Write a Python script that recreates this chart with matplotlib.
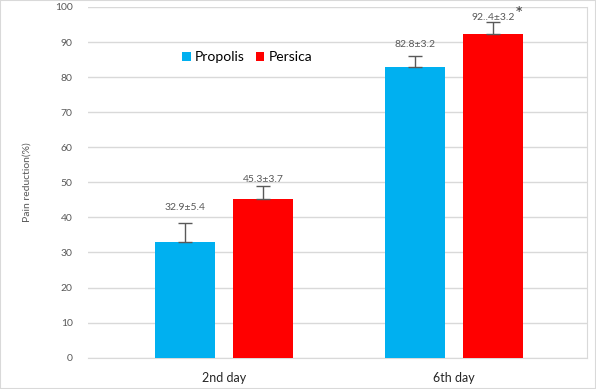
import matplotlib
matplotlib.use('Agg')
import matplotlib.pyplot as plt
import numpy as np
from matplotlib.patches import Rectangle

plt.rcParams['font.family'] = ['Lato', 'DejaVu Sans']

days = ['2nd day', '6th day']
propolis = [32.9, 82.8]
propolis_sd = [5.4, 3.2]
persica = [45.3, 92.4]
persica_sd = [3.7, 3.2]
propolis_labels = ['32.9±5.4', '82.8±3.2']
persica_labels = ['45.3±3.7', '92..4±3.2']
yticks = list(range(0, 101, 10))

BLUE = '#00B0F0'
RED = '#FF0000'
GRID = '#D9D9D9'
TXT = '#595959'

fig = plt.figure(figsize=(5.96, 3.89), dpi=100)
ax = fig.add_axes([88 / 596, 1 - 357.7 / 389, 499 / 596, 350.7 / 389])

x = np.arange(len(days))
w = 0.26
off = 0.17

ax.bar(x - off, propolis, w, color=BLUE, label='Propolis', zorder=3)
ax.bar(x + off, persica, w, color=RED, label='Persica', zorder=3)

err_kw = dict(fmt='none', ecolor=TXT, elinewidth=1, capsize=5, capthick=1, zorder=4)
ax.errorbar(x - off, propolis, yerr=[np.zeros(2), propolis_sd], **err_kw)
ax.errorbar(x + off, persica, yerr=[np.zeros(2), persica_sd], **err_kw)

# label heights above the error bars, as placed in the original
prop_pad = [4.4, 3.2]
pers_pad = [1.7, 1.3]
for i in range(len(days)):
    ax.text(x[i] - off, propolis[i] + propolis_sd[i] + prop_pad[i], propolis_labels[i],
            ha='center', va='center', fontsize=7.5, color=TXT, zorder=5)
    ax.text(x[i] + off, persica[i] + persica_sd[i] + pers_pad[i], persica_labels[i],
            ha='center', va='center', fontsize=7.5, color=TXT, zorder=5)

ax.text(1.262, 100.3, '*', ha='left', va='top', fontsize=14, color='#404040')

ax.set_xlim(-0.591, 1.578)
ax.set_ylim(0, 100)
ax.set_yticks(yticks)
ax.set_xticks(x)
ax.set_xticklabels(days)
ax.tick_params(axis='y', length=0, pad=11, labelsize=7.5, labelcolor=TXT)
ax.tick_params(axis='x', length=0, pad=10, labelsize=9, labelcolor='#262626')
ax.grid(axis='y', color=GRID, linewidth=1, zorder=0)
for s in ['top', 'left']:
    ax.spines[s].set_visible(False)
ax.spines['bottom'].set_color(GRID)
ax.spines['right'].set_color(GRID)
ax.set_ylabel('Pain reduction(%)', fontsize=7.5, color=TXT, labelpad=17)

ax.legend(loc='center', bbox_to_anchor=(0.319, 0.857), ncol=2, frameon=False,
          fontsize=10, handlelength=0.6, handleheight=0.6, handletextpad=0.3,
          columnspacing=0.8)

fig.patches.append(Rectangle((0, 0), 1, 1, transform=fig.transFigure, fill=False,
                             edgecolor=GRID, linewidth=1.5))

fig.savefig('out.png', dpi=100)
